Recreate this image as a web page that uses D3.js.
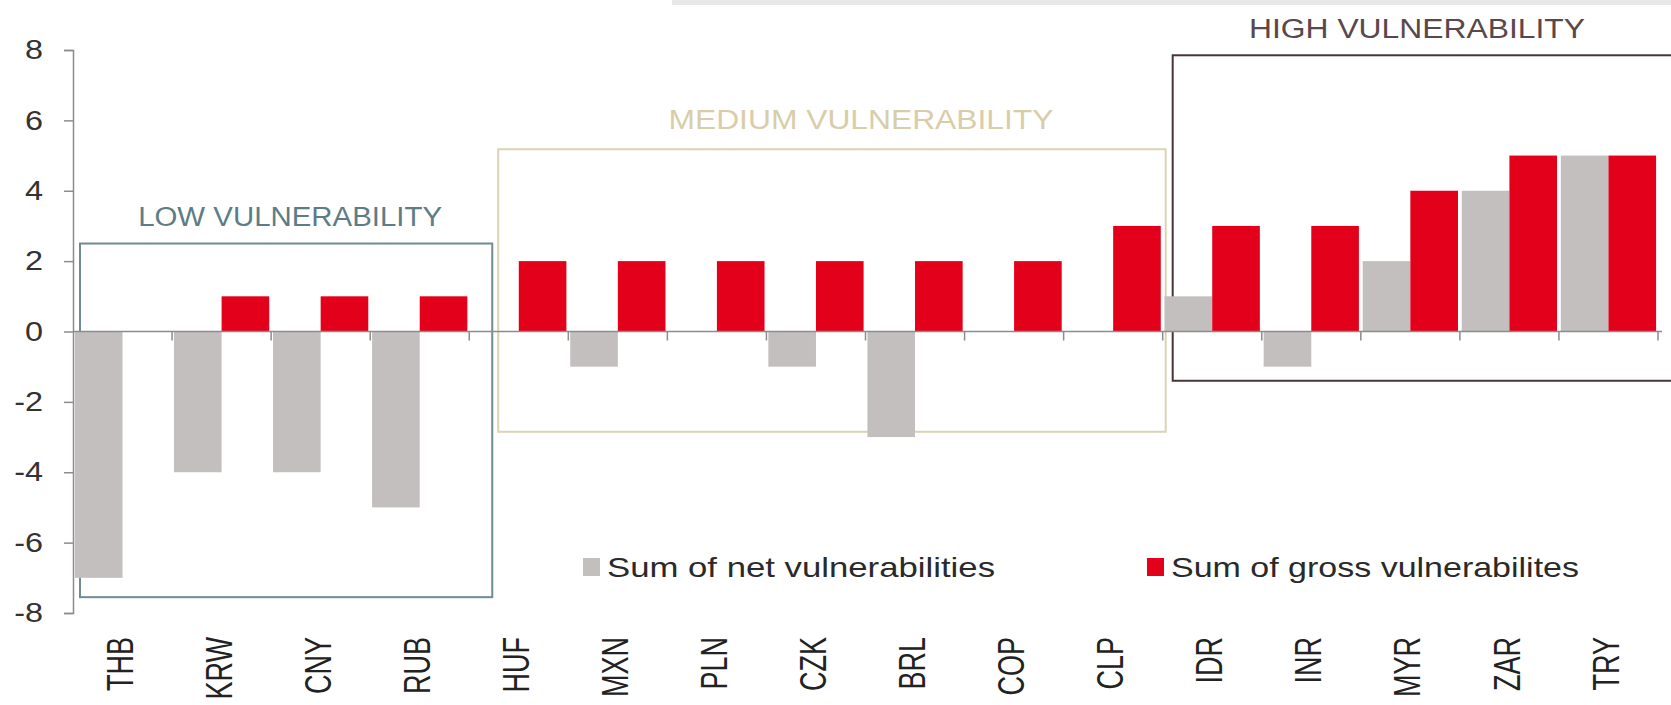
<!DOCTYPE html>
<html>
<head>
<meta charset="utf-8">
<script src="https://cdn.jsdelivr.net/npm/d3@7"></script>
<style>
  body { margin: 0; background: #fff; }
  svg { display: block; font-family: "Liberation Sans", Arial, sans-serif; }
</style>
</head>
<body>
<div id="chart"></div>
<script>
// donnees
const categories = ["THB", "KRW", "CNY", "RUB", "HUF", "MXN", "PLN", "CZK", "BRL", "COP", "CLP", "IDR", "INR", "MYR", "ZAR", "TRY"];
const netValues = [-7, -4, -4, -5, 0, -1, 0, -1, -3, 0, 0, 1, -1, 2, 4, 5];
const grossValues = [0, 1, 1, 1, 2, 2, 2, 2, 2, 2, 3, 3, 3, 4, 5, 5];
const yTicks = [-8, -6, -4, -2, 0, 2, 4, 6, 8];
const seriesNames = ["Sum of net vulnerabilities", "Sum of gross vulnerabilites"];
const groupNames = ["LOW VULNERABILITY", "MEDIUM VULNERABILITY", "HIGH VULNERABILITY"];
const groupFirst = ["THB", "HUF", "IDR"];
const groupLast = ["RUB", "CLP", "TRY"];

const width = 1671, height = 705;
const colors = ["#c3bfbf", "#e2001b"];

const svg = d3.select("#chart")
  .append("svg")
  .attr("width", width)
  .attr("height", height);

// bandeau gris en haut a droite
svg.append("rect")
  .attr("x", 672).attr("y", 0)
  .attr("width", width - 672).attr("height", 5)
  .style("fill", "#e8e8e8");

const x = d3.scaleBand()
  .domain(categories)
  .range([73, 1658])
  .padding(0);

const xInner = d3.scaleBand()
  .domain([0, 1])
  .range([0, x.bandwidth()])
  .paddingOuter(0.04)
  .paddingInner(0);

const y = d3.scaleLinear()
  .domain([-8, 8])
  .range([613, 50]);

// cadres des groupes (dessines avant les barres)
const boxExtent = [[2.5, -7.55], [5.18, -2.85], [7.85, -1.4]];
const boxOffset = [[7, 23], [29, 3], [10, 30]];
const boxColor = ["#6f8b94", "#dcd2b4", "#4b3438"];
const textColor = ["#5d7c86", "#d9cda9", "#5a474b"];
const textWidth = [304, 385, 336];
const textShift = [4, 29, -4];
const textGap = [18, 20, 17];

groupNames.forEach(function (name, i) {
  const x0 = x(groupFirst[i]) + boxOffset[i][0];
  const x1 = x(groupLast[i]) + x.bandwidth() + boxOffset[i][1];
  const y0 = y(boxExtent[i][0]);
  const y1 = y(boxExtent[i][1]);
  svg.append("rect")
    .attr("x", x0).attr("y", y0)
    .attr("width", x1 - x0).attr("height", y1 - y0)
    .style("fill", "none")
    .style("stroke", boxColor[i])
    .style("stroke-width", 2);
  const cx = i == 2 ? 1417 : (x0 + x1) / 2 + textShift[i];
  svg.append("text")
    .attr("x", cx - textWidth[i] / 2)
    .attr("y", y0 - textGap[i])
    .attr("textLength", textWidth[i])
    .attr("lengthAdjust", "spacingAndGlyphs")
    .style("font-size", "27px")
    .style("fill", textColor[i])
    .text(name);
});

// barres
const rows = categories.map((c, i) => ({ cat: c, values: [netValues[i], grossValues[i]] }));

const groups = svg.append("g")
  .selectAll("g")
  .data(rows)
  .join("g")
  .attr("transform", d => "translate(" + x(d.cat) + ",0)");

groups.selectAll("rect")
  .data(d => d.values.map((v, k) => ({ k: k, v: v })))
  .join("rect")
  .attr("x", d => xInner(d.k))
  .attr("width", xInner.bandwidth())
  .attr("y", d => y(Math.max(0, d.v)))
  .attr("height", d => Math.abs(y(d.v) - y(0)))
  .style("fill", d => colors[d.k]);

// axe vertical
const yAxis = svg.append("g")
  .attr("transform", "translate(73,0)")
  .call(d3.axisLeft(y).tickValues(yTicks).tickSize(9).tickPadding(16).tickFormat(d => String(d)));
yAxis.select(".domain").style("stroke", "#8c8c8c").style("stroke-width", 1.5);
yAxis.selectAll(".tick line").style("stroke", "#8c8c8c").style("stroke-width", 1.5);
yAxis.selectAll(".tick text")
  .attr("transform", "scale(1.2,1)")
  .style("font-size", "27px")
  .style("font-family", "'Liberation Sans', Arial, sans-serif")
  .style("fill", "#333");

// axe horizontal au niveau du zero
const xAxis = svg.append("g")
  .attr("transform", "translate(0," + y(0) + ")");
xAxis.append("line")
  .attr("x1", 73).attr("x2", x.range()[1] + 4)
  .style("stroke", "#8c8c8c").style("stroke-width", 1.5);
xAxis.selectAll(".tk")
  .data(categories.slice(1).concat(["end"]))
  .join("line")
  .attr("class", "tk")
  .attr("x1", (d, i) => x.range()[0] + (i + 1) * x.step())
  .attr("x2", (d, i) => x.range()[0] + (i + 1) * x.step())
  .attr("y1", 0).attr("y2", 9)
  .style("stroke", "#8c8c8c").style("stroke-width", 1.5);

// etiquettes des devises (tournees)
svg.append("g")
  .selectAll("text")
  .data(categories)
  .join("text")
  .attr("transform", d => "translate(" + (x(d) + x.bandwidth() / 2 - 3) + ",637) scale(1.35,1) rotate(-90)")
  .attr("text-anchor", "end")
  .attr("dy", "0.36em")
  .style("font-size", "27px")
  .style("fill", "#222")
  .text(d => d);

// legende
const legendX = [583, 1147];
const legendW = [388, 408];
seriesNames.forEach(function (name, i) {
  svg.append("rect")
    .attr("x", legendX[i]).attr("y", 558)
    .attr("width", 17).attr("height", 18)
    .style("fill", colors[i]);
  svg.append("text")
    .attr("x", legendX[i] + 24)
    .attr("y", 577)
    .attr("textLength", legendW[i])
    .attr("lengthAdjust", "spacingAndGlyphs")
    .style("font-size", "28px")
    .style("fill", "#2a2a2a")
    .text(name);
});
</script>
</body>
</html>
